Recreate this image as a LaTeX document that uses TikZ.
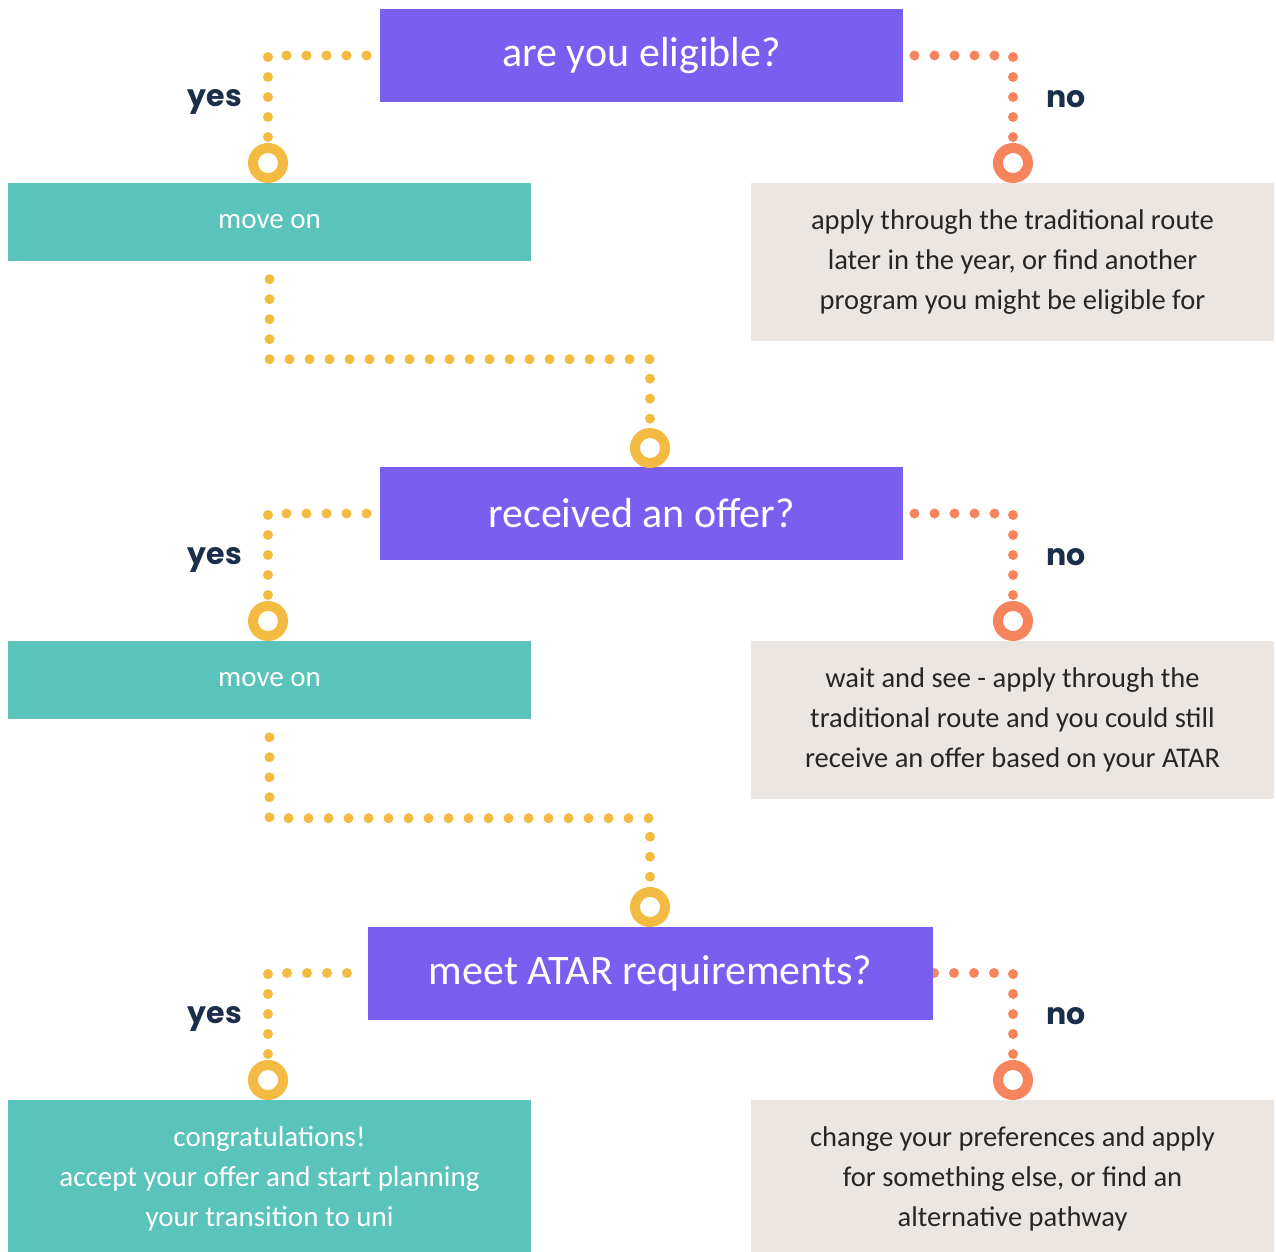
\documentclass[tikz,border=0pt]{standalone}
\usepackage{fontspec}
\setmainfont{Carlito}
\newfontfamily\answerfont{Poppins}
\usetikzlibrary{positioning,backgrounds}
\definecolor{qpurple}{RGB}{122,94,239}
\definecolor{yesteal}{RGB}{90,195,188}
\definecolor{nogrey}{RGB}{235,230,225}
\definecolor{dotyellow}{RGB}{243,187,66}
\definecolor{dotorange}{RGB}{246,132,92}
\definecolor{answernavy}{RGB}{27,46,74}
\tikzset{
  question/.style={fill=qpurple, text=white, minimum height=93pt, inner sep=0pt, font=\fontsize{42}{48}\selectfont},
  yesbox/.style={fill=yesteal, text=white, minimum width=523pt, inner sep=0pt, align=center, font=\fontsize{29}{40}\selectfont},
  nobox/.style={fill=nogrey, text=black!85, minimum width=523pt, inner sep=0pt, align=center, font=\fontsize{28.5}{40}\selectfont},
  ring/.style={circle, draw=#1, line width=10pt, minimum size=30pt, inner sep=0pt, fill=white},
  dots/.style={draw=#1, line width=10pt, line cap=round, dash pattern=on 0pt off 20pt},
  answer/.style={text=answernavy, font=\answerfont\bfseries\fontsize{30}{36}\selectfont}
}
\begin{document}
\begin{tikzpicture}[x=1pt, y=-1pt]
\useasboundingbox (0,0) rectangle (1276,1251);

% questions
\node[question, minimum width=523pt] (q1) at (641.5,55.5) {are you eligible?};
\node[question, minimum width=523pt] (q2) at (641.5,513.5) {received an offer?};
\node[question, minimum width=565pt] (q3) at (650.5,973) {meet ATAR requirements?};

% outcomes
\node[yesbox, minimum height=78pt] (m1) at (269.5,222) {move on};
\node[nobox, minimum height=158pt] (n1) at (1012.5,262) {apply through the traditional route\\later in the year, or find another\\program you might be eligible for};
\node[yesbox, minimum height=78pt] (m2) at (269.5,680) {move on};
\node[nobox, minimum height=158pt] (n2) at (1012.5,720) {wait and see - apply through the\\traditional route and you could still\\receive an offer based on your ATAR};
\node[yesbox, minimum height=158pt] (m3) at (269.5,1179) {congratulations!\\accept your offer and start planning\\your transition to uni};
\node[nobox, minimum height=158pt] (n3) at (1012.5,1179) {change your preferences and apply\\for something else, or find an\\alternative pathway};

% rings
\node[ring=dotyellow] (y1) at (268,163) {};
\node[ring=dotorange] (o1) at (1013,163) {};
\node[ring=dotyellow] (c1) at (650,448) {};
\node[ring=dotyellow] (y2) at (268,621) {};
\node[ring=dotorange] (o2) at (1013,621) {};
\node[ring=dotyellow] (c2) at (650,907) {};
\node[ring=dotyellow] (y3) at (268,1080) {};
\node[ring=dotorange] (o3) at (1013,1080) {};

% labels
\node[answer] (yes1) at (215,102) {yes};
\node[answer] (no1) at (1066,99) {no};
\node[answer] (yes2) at (215,560) {yes};
\node[answer] (no2) at (1066,557) {no};
\node[answer] (yes3) at (215,1019) {yes};
\node[answer] (no3) at (1066,1016) {no};

% dotted connectors
\begin{scope}[on background layer]
\draw[dots=dotyellow, shorten <=6pt, shorten >=4pt] (y1.north) |- (q1.west);
\draw[dots=dotorange, shorten <=6pt, shorten >=9pt] (o1.north) |- (q1.east);
\draw[dots=dotyellow, shorten <=18pt] (m1.south) -- ++(0,98) -| (c1.north);
\draw[dots=dotyellow, shorten <=6pt, shorten >=4pt] (y2.north) |- (q2.west);
\draw[dots=dotorange, shorten <=6pt, shorten >=9pt] (o2.north) |- (q2.east);
\draw[dots=dotyellow, shorten <=18pt] (m2.south) -- ++(0,99) -| (c2.north);
\draw[dots=dotyellow, shorten <=6pt, shorten >=4pt] (y3.north) |- (q3.west);
\draw[dots=dotorange, shorten <=6pt] (o3.north) |- (q3.east);
\end{scope}
\end{tikzpicture}
\end{document}
